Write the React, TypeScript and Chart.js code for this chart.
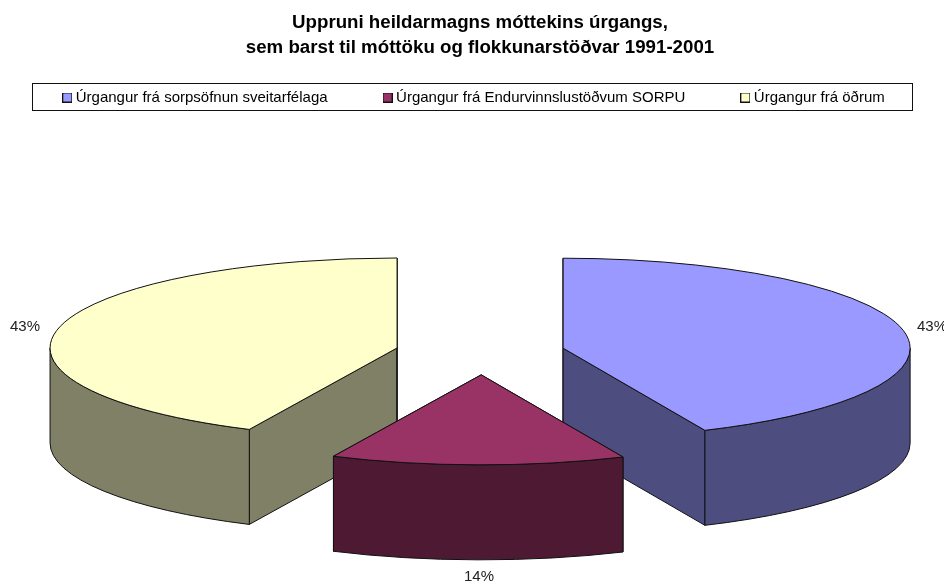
import React, { useEffect, useRef } from "react";
import { Chart } from "chart.js/auto";

const titleLines = [
  "Uppruni heildarmagns móttekins úrgangs,",
  "sem barst til móttöku og flokkunarstöðvar 1991-2001",
];
const categories = [
  "Úrgangur frá sorpsöfnun sveitarfélaga",
  "Úrgangur frá Endurvinnslustöðvum SORPU",
  "Úrgangur frá öðrum",
];
const shares = [43.3, 13.7, 43.0];
const topColors = ["#9999FF", "#993366", "#FFFFCC"];
const wallColors = ["#4D4D80", "#4D1933", "#808066"];

const PIVOT_X = 480;
const PIVOT_Y = 352.8;
const RX = 347;
const RY = 90;
const DEPTH = 95;
const EXPLODE = 85;
const NUDGE_X = [0, 2, 0];
const DRAW_ORDER = [0, 2, 1];
const LABEL_POS: [number, number][] = [[932, 327], [25, 327], [479, 577]];
const LABEL_ORDER = [0, 2, 1];
const FONT = "'Liberation Sans', Arial, sans-serif";

function swatch(color: string) {
  const c = document.createElement("canvas");
  c.width = 10;
  c.height = 10;
  const x = c.getContext("2d")!;
  x.fillStyle = color;
  x.fillRect(0, 0, 10, 10);
  x.strokeStyle = "#111";
  x.lineWidth = 1;
  x.strokeRect(0.5, 0.5, 9, 9);
  return c;
}

const pie3d = {
  id: "pie3d",
  afterLayout(chart: any) {
    const lg = chart.legend;
    const h = lg.bottom - lg.top;
    lg.left = 1;
    lg.right = 950;
    lg.width = 949;
    lg.top = 90 - lg.options.labels.padding;
    lg.bottom = lg.top + h;
    const tb = chart.titleBlock;
    tb.left = 16;
    tb.width = tb.right - tb.left;
  },
  beforeDatasetsDraw(chart: any) {
    const ctx: CanvasRenderingContext2D = chart.ctx;
    const meta = chart.getDatasetMeta(0);
    ctx.save();
    ctx.lineWidth = 1;
    ctx.lineJoin = "round";
    ctx.strokeStyle = "#111";
    for (const i of DRAW_ORDER) {
      const el = meta.data[i];
      const a0 = el.startAngle;
      const a1 = el.endAngle;
      const mid = (a0 + a1) / 2;
      const ax = PIVOT_X + NUDGE_X[i] + Math.cos(mid) * EXPLODE;
      const ay = PIVOT_Y + (Math.sin(mid) * EXPLODE * RY) / RX;
      ctx.fillStyle = wallColors[i];
      for (const a of [a0, a1]) {
        const px = ax + Math.cos(a) * RX;
        const py = ay + Math.sin(a) * RY;
        ctx.beginPath();
        ctx.moveTo(ax, ay);
        ctx.lineTo(px, py);
        ctx.lineTo(px, py + DEPTH);
        ctx.lineTo(ax, ay + DEPTH);
        ctx.closePath();
        ctx.fill();
        ctx.stroke();
      }
      const s = Math.max(a0, 0);
      const e = Math.min(a1, Math.PI);
      if (e > s) {
        ctx.beginPath();
        ctx.ellipse(ax, ay, RX, RY, 0, s, e);
        ctx.ellipse(ax, ay + DEPTH, RX, RY, 0, e, s, true);
        ctx.closePath();
        ctx.fill();
        ctx.stroke();
      }
      ctx.save();
      ctx.translate(ax, ay);
      ctx.scale(1, RY / RX);
      ctx.translate(-el.x, -el.y);
      el.draw(ctx);
      ctx.restore();
      ctx.beginPath();
      ctx.moveTo(ax, ay);
      ctx.ellipse(ax, ay, RX, RY, 0, a0, a1);
      ctx.closePath();
      ctx.stroke();
    }
    ctx.restore();
    return false;
  },
  afterDraw(chart: any) {
    const ctx: CanvasRenderingContext2D = chart.ctx;
    ctx.save();
    ctx.strokeStyle = "#111";
    ctx.lineWidth = 1;
    ctx.strokeRect(32.5, 83.5, 880, 27);
    const total = shares.reduce((a, b) => a + b, 0);
    ctx.fillStyle = "#222";
    ctx.font = `15px ${FONT}`;
    ctx.textAlign = "center";
    ctx.textBaseline = "middle";
    LABEL_ORDER.forEach((idx, k) => {
      ctx.fillText(`${Math.round((shares[idx] / total) * 100)}%`, LABEL_POS[k][0], LABEL_POS[k][1]);
    });
    ctx.restore();
  },
};

export default function App() {
  const ref = useRef<HTMLCanvasElement>(null);
  useEffect(() => {
    const chart = new Chart(ref.current!, {
      type: "pie",
      data: {
        labels: categories,
        datasets: [{ data: shares, backgroundColor: topColors, borderWidth: 0 }],
      },
      options: {
        responsive: false,
        animation: false,
        radius: RX,
        plugins: {
          tooltip: { enabled: false },
          title: {
            display: true,
            text: titleLines,
            color: "#000",
            padding: { top: 10.5, bottom: 0 },
            font: { family: FONT, size: 18.7, weight: "bold", lineHeight: 25 / 18.7 },
          },
          legend: {
            display: true,
            position: "top",
            labels: {
              color: "#111",
              padding: 59,
              boxWidth: 2,
              boxHeight: 14,
              usePointStyle: true,
              pointStyleWidth: 2,
              font: { family: FONT, size: 15 },
              generateLabels: () =>
                categories.map((text, i) => ({
                  text,
                  fillStyle: topColors[i],
                  strokeStyle: "#111",
                  lineWidth: 0,
                  pointStyle: swatch(topColors[i]),
                  index: i,
                  hidden: false,
                })),
            },
          },
        },
      } as any,
      plugins: [pie3d as any],
    });
    return () => chart.destroy();
  }, []);
  return (
    <canvas
      ref={ref}
      width={944}
      height={582}
      style={{ position: "absolute", left: 0, top: 0, display: "block" }}
    />
  );
}
